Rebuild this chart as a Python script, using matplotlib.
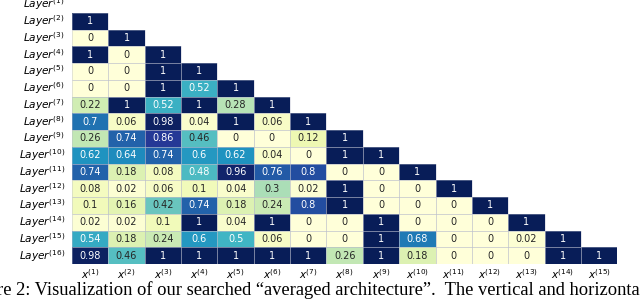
import numpy as np
import matplotlib
matplotlib.use("Agg")
import matplotlib.pyplot as plt
import seaborn as sns
from matplotlib.patches import Rectangle

# Lower-triangular weights: row i (Layer^(i)) has i-1 inputs x^(1)..x^(i-1)
rows = [
    [],
    [1],
    [0, 1],
    [1, 0, 1],
    [0, 0, 1, 1],
    [0, 0, 1, 0.52, 1],
    [0.22, 1, 0.52, 1, 0.28, 1],
    [0.7, 0.06, 0.98, 0.04, 1, 0.06, 1],
    [0.26, 0.74, 0.86, 0.46, 0, 0, 0.12, 1],
    [0.62, 0.64, 0.74, 0.6, 0.62, 0.04, 0, 1, 1],
    [0.74, 0.18, 0.08, 0.48, 0.96, 0.76, 0.8, 0, 0, 1],
    [0.08, 0.02, 0.06, 0.1, 0.04, 0.3, 0.02, 1, 0, 0, 1],
    [0.1, 0.16, 0.42, 0.74, 0.18, 0.24, 0.8, 1, 0, 0, 0, 1],
    [0.02, 0.02, 0.1, 1, 0.04, 1, 0, 0, 1, 0, 0, 0, 1],
    [0.54, 0.18, 0.24, 0.6, 0.5, 0.06, 0, 0, 1, 0.68, 0, 0, 0.02, 1],
    [0.98, 0.46, 1, 1, 1, 1, 1, 0.26, 1, 0.18, 0, 0, 0, 1, 1],
]
row_labels = [r"$\mathit{Layer}^{(%d)}$" % i for i in range(1, 17)]
col_labels = [r"$x^{(%d)}$" % j for j in range(1, 16)]

n_rows, n_cols = len(rows), len(col_labels)
data = np.full((n_rows, n_cols), np.nan)
for i, r in enumerate(rows):
    data[i, :len(r)] = r
mask = np.isnan(data)

# annotation strings like the reference ("1", "0", "0.52")
annot = np.empty(data.shape, dtype=object)
for i in range(n_rows):
    for j in range(n_cols):
        v = data[i, j]
        annot[i, j] = "" if np.isnan(v) else ("%g" % v)

fig = plt.figure(figsize=(6.4, 3.0), dpi=100)
ax = fig.add_axes([0.1125, 0.12, 0.852, 0.893])

sns.heatmap(data, mask=mask, cmap="YlGnBu", vmin=0, vmax=1, annot=annot, fmt="",
            annot_kws={"fontsize": 7}, cbar=False, linewidths=0, ax=ax)

# faint cell borders only on the filled cells
for i in range(n_rows):
    for j in range(n_cols):
        if not mask[i, j]:
            ax.add_patch(Rectangle((j, i), 1, 1, fill=False, lw=0.4,
                                   edgecolor="#b8bccc", alpha=0.7))

ax.set_xticks(np.arange(n_cols) + 0.5)
ax.set_xticklabels(col_labels, fontsize=7.5, rotation=0)
ax.set_yticks(np.arange(n_rows) + 0.5)
ax.set_yticklabels(row_labels, fontsize=7.6, rotation=0)
ax.tick_params(length=0, pad=5)
ax.tick_params(axis="x", pad=2)

fig.text(-0.004, 0.032, "re 2: Visualization of our searched \u201caveraged architecture\u201d.  The vertical and horizontal",
         family="Liberation Serif", fontsize=13.3, ha="left", va="center")

fig.savefig("out.png", dpi=100)
